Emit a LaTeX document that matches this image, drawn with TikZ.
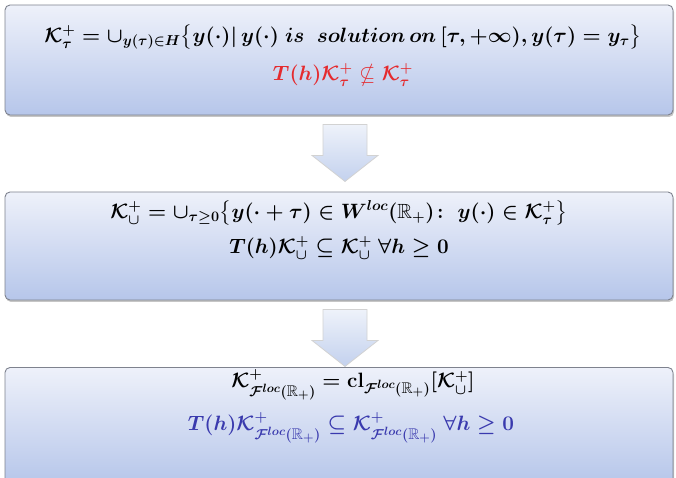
\documentclass[tikz,border=0pt]{standalone}
\usepackage{amsmath,amssymb}
\usepackage{tikz}
\usetikzlibrary{calc,shadows}
\DeclareMathSizes{20.5}{20.5}{15.5}{12}

\definecolor{boxtop}{HTML}{EEF1FA}
\definecolor{boxbottom}{HTML}{B6C6EA}
\definecolor{boxline}{HTML}{7E828E}
\definecolor{arrowtop}{HTML}{EEF2FA}
\definecolor{arrowbottom}{HTML}{C3D1EE}
\definecolor{redtext}{HTML}{E52A2E}
\definecolor{bluetext}{HTML}{3A3AAE}

\begin{document}
\begin{tikzpicture}[x=1pt,y=1pt,
  stagebox/.style={draw=boxline, line width=0.9pt, rounded corners=5pt,
    top color=boxtop, bottom color=boxbottom, minimum width=668pt,
    drop shadow={shadow xshift=1pt, shadow yshift=-2pt, opacity=0.45}},
  formula/.style={inner sep=0pt, font=\fontsize{20.5}{25}\selectfont\boldmath},
  blockarrow/.style={draw=gray!35, line width=0.8pt, top color=arrowtop,
    bottom color=arrowbottom, line join=miter}]
  \useasboundingbox (0,0) rectangle (676,478);

  % the three stages
  \node[stagebox, minimum height=110pt] (box1) at (339,418) {};
  \node[stagebox, minimum height=108pt] (box2) at (339,232) {};
  \node[stagebox, minimum height=117pt] (box3) at (339,52) {};

  \node[formula] (k1) at (343,441)
    {$\mathcal{K}^{+}_{\tau}=\cup_{y(\tau)\in H}\big\{y(\cdot)|\,y(\cdot)\ is\ \ solution\,on\,[\tau,+\infty),y(\tau)=y_{\tau}\big\}$};
  \node[formula, text=redtext] (t1) at (343,403)
    {$T(h)\mathcal{K}^{+}_{\tau}\nsubseteq\mathcal{K}^{+}_{\tau}$};

  \node[formula] (k2) at (339,265)
    {$\mathcal{K}^{+}_{\cup}=\cup_{\tau\ge 0}\big\{y(\cdot+\tau)\in W^{loc}(\mathbb{R}_{+})\colon\ y(\cdot)\in\mathcal{K}^{+}_{\tau}\big\}$};
  \node[formula] (t2) at (339,230)
    {$T(h)\mathcal{K}^{+}_{\cup}\subseteq\mathcal{K}^{+}_{\cup}\ \forall h\ge 0$};

  \node[formula] (k3) at (353,93)
    {$\mathcal{K}^{+}_{\mathcal{F}^{loc}(\mathbb{R}_{+})}=\mathrm{cl}_{\mathcal{F}^{loc}(\mathbb{R}_{+})}[\mathcal{K}^{+}_{\cup}]$};
  \node[formula, text=bluetext] (t3) at (351,50)
    {$T(h)\mathcal{K}^{+}_{\mathcal{F}^{loc}(\mathbb{R}_{+})}\subseteq\mathcal{K}^{+}_{\mathcal{F}^{loc}(\mathbb{R}_{+})}\ \forall h\ge 0$};

  % block arrows between the stages
  \coordinate (a1) at ($(box1.south)+(6,-9)$);
  \coordinate (a2) at ($(box2.south)+(6,-9)$);
  \foreach \a in {a1,a2}
    \draw[blockarrow] (\a) ++(-22,0) -- ++(44,0) -- ++(0,-31) -- ++(11,0)
      -- ++(-33,-26) -- ++(-33,26) -- ++(11,0) -- cycle;
\end{tikzpicture}
\end{document}
